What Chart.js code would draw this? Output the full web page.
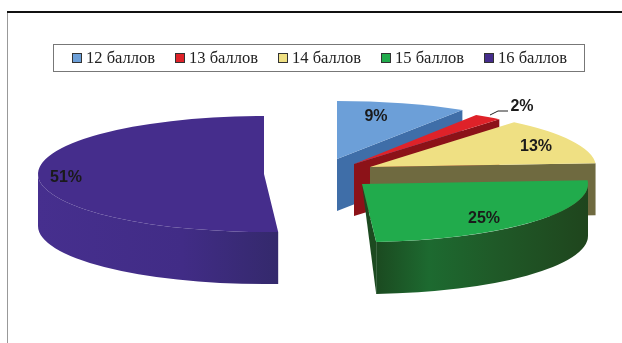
<!DOCTYPE html>
<html>
<head>
<meta charset="utf-8">
<script src="https://cdn.jsdelivr.net/npm/chart.js@4"></script>
<style>
  html, body { margin: 0; background: #fff; }
  canvas { display: block; }
</style>
</head>
<body>
<canvas id="grafico" width="622" height="343"></canvas>
<script>
const labels = ["12 баллов", "13 баллов", "14 баллов", "15 баллов", "16 баллов"];
const valores = [9, 2, 13, 25, 51];

const coresTopo = ["#6c9fd8", "#df2229", "#efe083", "#21ab4c", "#452d8c"];
const coresLado = ["#3f6ea8", "#8c1218", "#6f6a40", "#1c4a20", null];
const coresParede = [
    null,
    null,
    null,
    [[0, "#1b4a20"], [0.25, "#1d6a30"], [0.55, "#1f5a28"], [1, "#1f451d"]],
    [[0, "#462f8e"], [0.6, "#412c86"], [1, "#34296c"]]
];

// pie is flattened to an ellipse and each slice pulled out to its own centre
const raiosX = [234, 228, 226, 226, 226];
const raioY = 58;
const altura = 52;
const centros = [[337, 159], [354, 164], [370, 167], [362, 184], [264, 174]];
const posTextos = [[376, 117], [522, 107], [536, 147], [484, 219], [66, 178]];

const desenhaFatia = (ctx, arco, i) => {
    const [cx, cy] = centros[i];
    const raioX = raiosX[i];
    const ini = arco.startAngle;
    const fim = arco.endAngle;

    // curved outer wall, only the front half can be seen
    const a0 = Math.max(ini, 0);
    const a1 = Math.min(fim, Math.PI);
    if (coresParede[i] && a1 > a0) {
        const xs = [cx + raioX * Math.cos(a0), cx + raioX * Math.cos(a1)];
        const grad = ctx.createLinearGradient(Math.min(...xs), 0, Math.max(...xs), 0);
        let stops = coresParede[i];
        stops.forEach(s => grad.addColorStop(s[0], s[1]));
        ctx.fillStyle = grad;
        ctx.beginPath();
        ctx.ellipse(cx, cy, raioX, raioY, 0, a0, a1);
        ctx.ellipse(cx, cy + altura, raioX, raioY, 0, a1, a0, true);
        ctx.closePath();
        ctx.fill();
    }

    // flat cut wall along the closing edge of the slice
    if (coresLado[i]) {
        const ex = cx + raioX * Math.cos(fim);
        const ey = cy + raioY * Math.sin(fim);
        ctx.fillStyle = coresLado[i];
        ctx.beginPath();
        ctx.moveTo(cx, cy);
        ctx.lineTo(ex, ey);
        ctx.lineTo(ex, ey + altura);
        if (Math.sin(fim) < 0) ctx.lineTo(cx, cy + altura);
        ctx.closePath();
        ctx.fill();
    }

    // top face is the library's own arc, scaled into place
    ctx.save();
    ctx.translate(cx, cy);
    ctx.scale(raioX / arco.outerRadius, raioY / arco.outerRadius);
    ctx.translate(-arco.x, -arco.y);
    arco.draw(ctx);
    ctx.restore();
};

const desenhaLegenda = (ctx) => {
    ctx.strokeStyle = "#777";
    ctx.lineWidth = 1;
    ctx.strokeRect(53.5, 44.5, 531, 27);
    ctx.font = "16.5px 'Liberation Serif'";
    ctx.textAlign = "left";
    ctx.textBaseline = "middle";
    labels.forEach((label, i) => {
        const x = 72 + i * 103;
        ctx.fillStyle = coresTopo[i];
        ctx.fillRect(x, 53, 9, 9);
        ctx.strokeStyle = "#333";
        ctx.strokeRect(x + 0.5, 53.5, 9, 9);
        ctx.fillStyle = "#222";
        ctx.fillText(label, x + 14, 59);
    });
};

const pie3d = {
    id: 'pie3d',
    beforeDatasetsDraw(chart) {
        const ctx = chart.ctx;
        ctx.save();

        ctx.fillStyle = "#111";
        ctx.fillRect(7, 11, 615, 2);
        ctx.fillStyle = "#999";
        ctx.fillRect(7, 13, 1, 330);
        desenhaLegenda(ctx);

        const arcos = chart.getDatasetMeta(0).data;
        arcos.forEach((arco, i) => desenhaFatia(ctx, arco, i));

        // leader line of the smallest slice
        ctx.strokeStyle = "#222";
        ctx.lineWidth = 1;
        ctx.beginPath();
        ctx.moveTo(490, 115);
        ctx.lineTo(498, 111);
        ctx.lineTo(508, 111);
        ctx.stroke();

        ctx.font = "bold 16px 'Liberation Sans'";
        ctx.textAlign = "center";
        ctx.textBaseline = "middle";
        ctx.fillStyle = "#1a1a1a";
        valores.forEach((v, i) => {
            ctx.fillText(v + "%", posTextos[i][0], posTextos[i][1]);
        });
        ctx.restore();
        return false;
    }
};

new Chart(document.getElementById('grafico'), {
    type: 'pie',
    data: {
        labels: labels,
        datasets: [{
            data: valores,
            backgroundColor: coresTopo,
            borderWidth: 0
        }]
    },
    options: {
        responsive: false,
        animation: false,
        events: [],
        plugins: {
            legend: { display: false },
            tooltip: { enabled: false }
        }
    },
    plugins: [pie3d]
});
</script>
</body>
</html>
